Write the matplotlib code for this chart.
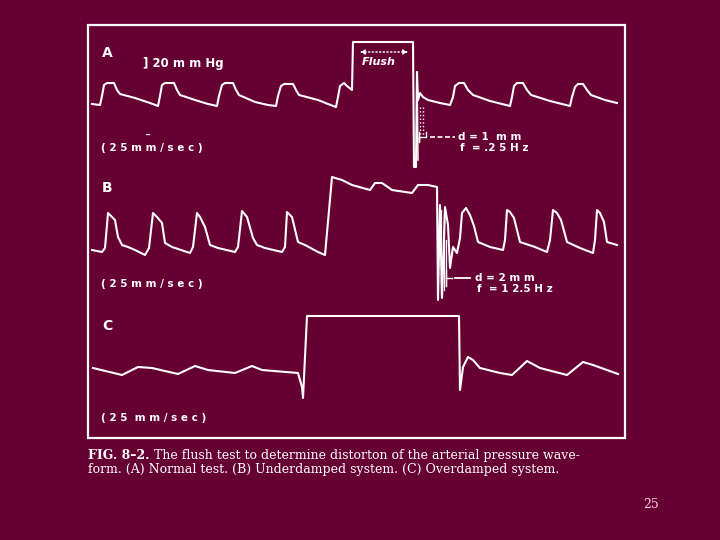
import matplotlib
matplotlib.use("Agg")
import matplotlib.pyplot as plt
from matplotlib.patches import Rectangle

BG = "#660033"
INK = "white"

# traces, in page pixel units (x right, y down)
trace_a_x = [92, 100, 102, 104, 107, 114, 117, 120, 135, 150, 158,
             160, 162, 165, 174, 177, 180, 195, 208, 217,
             219, 222, 225, 233, 236, 239, 255, 268, 276,
             278, 281, 284, 293, 296, 299, 318, 328, 336,
             338, 340, 344, 347, 352, 353, 413, 414, 416, 417, 418, 420, 423, 428, 440, 450,
             453, 455, 459, 464, 468, 473, 490, 510,
             512, 514, 517, 523, 527, 531, 550, 570,
             572, 575, 578, 583, 587, 591, 605, 617]
trace_a_y = [104, 105, 96, 85, 83, 83, 90, 94, 98, 103, 106,
             96, 85, 83, 83, 90, 95, 100, 104, 106,
             96, 85, 83, 83, 90, 95, 102, 105, 106,
             96, 86, 84, 84, 90, 95, 100, 104, 107,
             97, 86, 83, 86, 90, 42, 42, 167, 167, 72, 100, 93, 97, 100, 103, 105,
             97, 86, 83, 83, 90, 95, 101, 106,
             97, 86, 83, 83, 90, 95, 101, 106,
             97, 87, 84, 84, 90, 95, 100, 103]

trace_b_x = [92, 102, 105, 108, 110, 115, 118, 122, 128, 135, 145,
             149, 153, 157, 162, 165, 172, 190,
             193, 197, 200, 205, 210, 218, 235,
             238, 242, 247, 253, 257, 265, 282,
             285, 287, 292, 298, 305, 318, 325,
             332, 342, 352, 370, 375, 382, 392, 412, 418, 428, 437,
             438, 440, 442, 445, 448, 450, 453, 457, 460, 462, 466, 470, 474, 478, 490, 503,
             505, 507, 510, 514, 520, 535, 547,
             550, 553, 557, 561, 567, 580, 593,
             595, 597, 600, 604, 607, 617]
trace_b_y = [250, 252, 248, 213, 215, 220, 237, 245, 247, 250, 255,
             248, 213, 217, 223, 243, 247, 253,
             247, 213, 217, 227, 245, 248, 252,
             247, 211, 217, 238, 245, 248, 252,
             247, 212, 217, 242, 245, 252, 255,
             177, 180, 185, 190, 183, 183, 190, 193, 185, 185, 187,
             300, 205, 298, 207, 225, 268, 247, 253, 238, 213, 208, 215, 226, 242, 247, 250,
             240, 210, 212, 218, 242, 247, 252,
             240, 210, 213, 220, 242, 248, 253,
             240, 210, 213, 222, 242, 245]

trace_c_x = [93, 122, 138, 152, 178, 195, 208, 235, 252, 262, 298, 302, 303,
             307, 459, 460, 463, 468, 473, 480, 500, 512, 527, 540, 567, 583, 593, 618]
trace_c_y = [368, 375, 367, 368, 374, 366, 370, 373, 366, 370, 373, 387, 398,
             316, 316, 390, 367, 357, 360, 368, 373, 375, 361, 368, 375, 362, 365, 374]

# ringing lines seen beside the flush release
ring_a_x = [417, 418]
ring_a_y = [72, 160]
ring_b_x = [441, 444, 446]
ring_b_top = [210, 215, 240]
ring_b_bot = [296, 290, 285]

panel_letters = ["A", "B", "C"]
speed_labels = ["( 2 5 m m / s e c )", "( 2 5 m m / s e c )", "( 2 5  m m / s e c )"]
d_labels = ["d = 1  m m", "d = 2 m m"]
f_labels = ["f  = .2 5 H z", "f  = 1 2.5 H z"]

caption_bold = "FIG. 8–2."
caption_1 = " The flush test to determine distorton of the arterial pressure wave-"
caption_2 = "form. (A) Normal test. (B) Underdamped system. (C) Overdamped system."
page_no = "25"

fig = plt.figure(figsize=(7.2, 5.4), dpi=100, facecolor=BG)
ax = fig.add_axes([0, 0, 1, 1], facecolor=BG)
ax.set_xlim(0, 720)
ax.set_ylim(540, 0)
ax.axis("off")

# frame around the figure
ax.add_patch(Rectangle((88, 25), 537, 413, fill=False, ec=INK, lw=1.6))

for xs, ys in [(trace_a_x, trace_a_y), (trace_b_x, trace_b_y), (trace_c_x, trace_c_y)]:
    ax.plot(xs, ys, color=INK, lw=1.5, solid_joinstyle="round")

ax.plot(ring_a_x, ring_a_y, color=INK, lw=1.1)
for x, t, b in zip(ring_b_x, ring_b_top, ring_b_bot):
    ax.plot([x, x], [t, b], color=INK, lw=0.9)

# damping marks (dotted guides + measuring bar)
ax.plot([420, 420], [107, 135], color=INK, lw=1, ls=":")
ax.plot([423, 423], [107, 135], color=INK, lw=1, ls=":")
ax.plot([419, 419, 419, 426, 426], [132, 142, 137, 137, 132], color=INK, lw=1)
ax.plot([430, 455], [137, 137], color=INK, lw=1.2, ls="--", dashes=(3, 1.5))
ax.plot([446, 446], [270, 286], color=INK, lw=1)
ax.plot([446, 452], [278, 278], color=INK, lw=1)
ax.plot([455, 470], [278, 278], color=INK, lw=1.3)

# flush marker
ax.annotate("", xy=(357, 52), xytext=(411, 52),
            arrowprops=dict(arrowstyle="<|-|>", color=INK, lw=1, ls=":",
                            mutation_scale=7))
ax.text(362, 62, "Flush", color=INK, fontsize=8, style="italic",
        fontweight="bold", va="center")

label_kw = dict(color=INK, fontweight="bold", va="center", family="DejaVu Sans")
for letter, y in zip(panel_letters, [53, 188, 326]):
    ax.text(102, y, letter, fontsize=10, **label_kw)
for lab, y in zip(speed_labels, [148, 284, 418]):
    ax.text(101, y, lab, fontsize=7.5, **label_kw)
ax.text(143, 63, "] 20 m m Hg", fontsize=8.5, **label_kw)
ax.text(146, 131, "_", fontsize=6, **label_kw)

for d, f, x, y in zip(d_labels, f_labels, [458, 475], [137, 278]):
    ax.text(x, y, d, fontsize=7.5, **label_kw)
    ax.text(x + 2, y + 11, f, fontsize=7.5, **label_kw)

# caption, bold figure number followed by plain text on the same line
cap_kw = dict(color=INK, fontsize=9, family="DejaVu Serif", va="bottom")
t = ax.text(88, 462, caption_bold, fontweight="bold", **cap_kw)
ax.annotate(caption_1, xy=(1, 0), xycoords=t, **cap_kw)
ax.text(88, 476, caption_2, **cap_kw)

ax.text(651, 505, page_no, color="#ffd0e0", fontsize=9, family="DejaVu Serif",
        ha="center", va="center")

fig.savefig("out.png", dpi=100, facecolor=BG)
